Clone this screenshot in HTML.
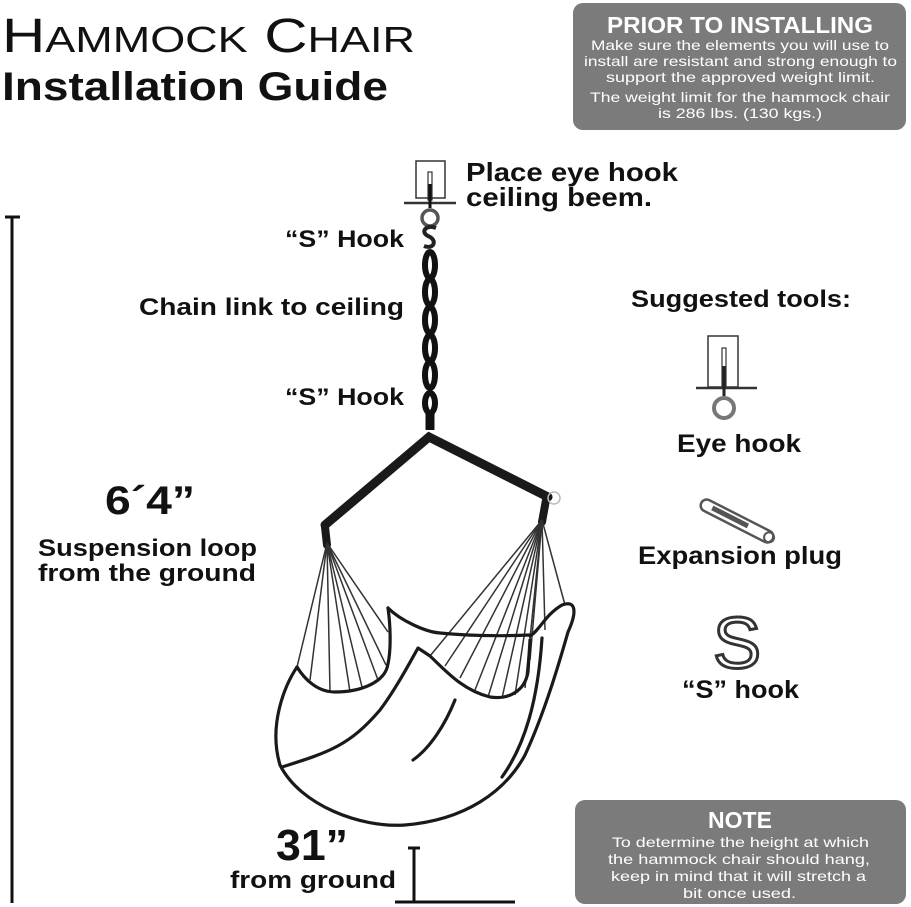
<!DOCTYPE html>
<html><head><meta charset="utf-8"><style>
body{margin:0;background:#fff;}
svg{display:block}
text{font-family:"Liberation Sans",sans-serif;font-weight:bold;fill:#111}
.w{font-weight:normal;font-size:14px;fill:#fff}
</style></head><body>
<svg width="911" height="907" viewBox="0 0 911 907" xmlns="http://www.w3.org/2000/svg">
<!-- title -->
<text x="2" y="52" textLength="413" lengthAdjust="spacingAndGlyphs" style="font-weight:normal;font-size:48px">H<tspan font-size="36">AMMOCK</tspan> C<tspan font-size="36">HAIR</tspan></text>
<text x="2" y="100" textLength="386" lengthAdjust="spacingAndGlyphs" style="font-size:40px">Installation Guide</text>
<!-- top box -->
<rect x="573" y="3" width="333" height="127" rx="10" fill="#7b7b7b"/>
<text x="607" y="33" textLength="266" lengthAdjust="spacingAndGlyphs" style="font-size:23px;fill:#fff">PRIOR TO INSTALLING</text>
<text x="591" y="50" textLength="298" lengthAdjust="spacingAndGlyphs" class="w">Make sure the elements you will use to</text>
<text x="584" y="66" textLength="313" lengthAdjust="spacingAndGlyphs" class="w">install are resistant and strong enough to</text>
<text x="606" y="82" textLength="269" lengthAdjust="spacingAndGlyphs" class="w">support the approved weight limit.</text>
<text x="590" y="102" textLength="300" lengthAdjust="spacingAndGlyphs" class="w">The weight limit for the hammock chair</text>
<text x="658" y="118" textLength="164" lengthAdjust="spacingAndGlyphs" class="w">is 286 lbs. (130 kgs.)</text>
<!-- bottom box -->
<rect x="575" y="800" width="331" height="104" rx="10" fill="#7b7b7b"/>
<text x="740" y="828" text-anchor="middle" style="font-size:23px;fill:#fff">NOTE</text>
<text x="612" y="847" textLength="257" lengthAdjust="spacingAndGlyphs" class="w">To determine the height at which</text>
<text x="608" y="864" textLength="262" lengthAdjust="spacingAndGlyphs" class="w">the hammock chair should hang,</text>
<text x="611" y="881" textLength="255" lengthAdjust="spacingAndGlyphs" class="w">keep in mind that it will stretch a</text>
<text x="683" y="898" textLength="113" lengthAdjust="spacingAndGlyphs" class="w">bit once used.</text>
<!-- left dimension -->
<g stroke="#111" stroke-width="3">
<line x1="12" y1="217" x2="12" y2="903"/>
<line x1="5" y1="217" x2="20" y2="217"/>
</g>
<text x="105" y="514" textLength="90" lengthAdjust="spacingAndGlyphs" style="font-size:40px">6´4”</text>
<text x="38" y="556" textLength="219" lengthAdjust="spacingAndGlyphs" style="font-size:24px">Suspension loop</text>
<text x="38" y="581" textLength="218" lengthAdjust="spacingAndGlyphs" style="font-size:24px">from the ground</text>
<!-- 31 -->
<text x="276" y="860" textLength="72" lengthAdjust="spacingAndGlyphs" style="font-size:44px">31”</text>
<text x="230" y="888" textLength="166" lengthAdjust="spacingAndGlyphs" style="font-size:24px">from ground</text>
<g stroke="#111" stroke-width="3"><line x1="414" y1="848" x2="414" y2="903"/><line x1="408" y1="848" x2="420" y2="848"/><line x1="395" y1="902" x2="515" y2="902"/></g>
<!-- labels -->
<text x="466" y="181" textLength="212" lengthAdjust="spacingAndGlyphs" style="font-size:26px">Place eye hook</text>
<text x="466" y="206" textLength="186" lengthAdjust="spacingAndGlyphs" style="font-size:26px">ceiling beem.</text>
<text x="285" y="247" textLength="119" lengthAdjust="spacingAndGlyphs" style="font-size:24px">“S” Hook</text>
<text x="139" y="315" textLength="265" lengthAdjust="spacingAndGlyphs" style="font-size:24px">Chain link to ceiling</text>
<text x="285" y="405" textLength="119" lengthAdjust="spacingAndGlyphs" style="font-size:24px">“S” Hook</text>
<!-- top eye hook -->
<g fill="none" stroke="#333">
<rect x="416" y="161" width="29" height="37" stroke-width="1.5"/>
<line x1="404" y1="203" x2="456" y2="203" stroke-width="2.5"/>
<rect x="428" y="172" width="4" height="28" stroke-width="1.2"/>
<line x1="430" y1="184" x2="430" y2="208" stroke="#111" stroke-width="3"/>
<circle cx="430" cy="218" r="8" stroke="#555" stroke-width="3.5"/>
<path d="M436,228 C426,224 420,232 428,236 C438,240 434,250 424,246" stroke="#222" stroke-width="4"/>
</g>
<!-- chain -->
<g fill="none" stroke="#111" stroke-width="6">
<ellipse cx="430" cy="265" rx="5" ry="13"/>
<ellipse cx="430" cy="292" rx="5" ry="13"/>
<ellipse cx="430" cy="320" rx="5" ry="13"/>
<ellipse cx="430" cy="348" rx="5" ry="13"/>
<ellipse cx="430" cy="375" rx="5" ry="13"/>
<ellipse cx="430" cy="403" rx="5" ry="10"/>
<line x1="430" y1="412" x2="430" y2="430" stroke-width="9"/>
</g>
<!-- bar -->
<g stroke="#1a1a1a" stroke-width="9" fill="none" stroke-linecap="round">
<polyline points="325,525 429,437 548,497"/>
<line x1="325" y1="527" x2="327" y2="545" stroke-width="8"/>
<line x1="546" y1="500" x2="542" y2="522" stroke-width="8"/>
</g>
<circle cx="554" cy="498" r="6" fill="none" stroke="#bbb" stroke-width="1.5"/>
<!-- strings -->
<g stroke="#333" stroke-width="1.5">
<line x1="327" y1="543" x2="297" y2="667"/>
<line x1="327" y1="543" x2="310" y2="680"/>
<line x1="327" y1="543" x2="330" y2="692"/>
<line x1="327" y1="543" x2="350" y2="692"/>
<line x1="327" y1="543" x2="362" y2="687"/>
<line x1="327" y1="543" x2="378" y2="680"/>
<line x1="327" y1="543" x2="386" y2="665"/>
<line x1="327" y1="543" x2="388" y2="632"/>
<line x1="542" y1="520" x2="430" y2="656"/>
<line x1="542" y1="520" x2="445" y2="666"/>
<line x1="542" y1="520" x2="460" y2="678"/>
<line x1="542" y1="520" x2="475" y2="690"/>
<line x1="542" y1="520" x2="488" y2="697"/>
<line x1="542" y1="520" x2="502" y2="698"/>
<line x1="542" y1="520" x2="515" y2="695"/>
<line x1="542" y1="520" x2="525" y2="688"/>
<line x1="542" y1="520" x2="530" y2="660"/>
<line x1="542" y1="520" x2="545" y2="630"/>
<line x1="542" y1="520" x2="565" y2="605"/>
</g>
<!-- seat -->
<g fill="none" stroke="#1a1a1a" stroke-width="3.2" stroke-linejoin="round" stroke-linecap="round">
<path d="M297,667 C285,685 268,725 280,765 C300,805 360,828 405,825 C465,820 505,792 525,755 C545,712 560,660 568,632 C578,610 575,600 562,605 C545,615 540,630 530,636"/>
<path d="M388,608 C400,620 425,632 440,633 C470,636 505,636 530,635"/>
<path d="M297,667 C305,680 318,692 335,692 C360,692 382,683 387,668 C392,650 390,622 388,608"/>
<path d="M282,767 C330,752 350,745 380,710 C395,690 408,666 418,648 L430,656 C445,670 462,690 490,697 C510,700 525,690 528,672 L530,640"/>
<path d="M455,700 C445,725 430,748 413,760"/>
<path d="M542,638 C538,700 525,745 502,777"/>
</g>
<!-- suggested tools -->
<text x="631" y="307" textLength="220" lengthAdjust="spacingAndGlyphs" style="font-size:24px">Suggested tools:</text>
<g fill="none" stroke="#333">
<rect x="708" y="336" width="30" height="51" stroke-width="1.5"/>
<line x1="696" y1="388" x2="757" y2="388" stroke-width="2.5"/>
<rect x="722" y="348" width="4" height="40" stroke-width="1.2"/>
<line x1="724" y1="366" x2="724" y2="396" stroke="#222" stroke-width="3"/>
<circle cx="724" cy="408" r="10" stroke="#777" stroke-width="4"/>
</g>
<text x="677" y="452" textLength="124" lengthAdjust="spacingAndGlyphs" style="font-size:25px">Eye hook</text>
<g transform="translate(737,521) rotate(27)">
<rect x="-40" y="-6" width="80" height="12" rx="6" fill="#fff" stroke="#555" stroke-width="2.5"/>
<rect x="-28" y="-3" width="40" height="5" fill="#555"/>
<circle cx="36" cy="0" r="5" fill="none" stroke="#555" stroke-width="2"/>
</g>
<text x="638" y="564" textLength="204" lengthAdjust="spacingAndGlyphs" style="font-size:25px">Expansion plug</text>
<text x="737" y="668" text-anchor="middle" style="font-size:72px;font-weight:normal;fill:#fff;stroke:#333;stroke-width:3">S</text>
<text x="682" y="698" textLength="117" lengthAdjust="spacingAndGlyphs" style="font-size:25px">“S” hook</text>
</svg>
</body></html>
